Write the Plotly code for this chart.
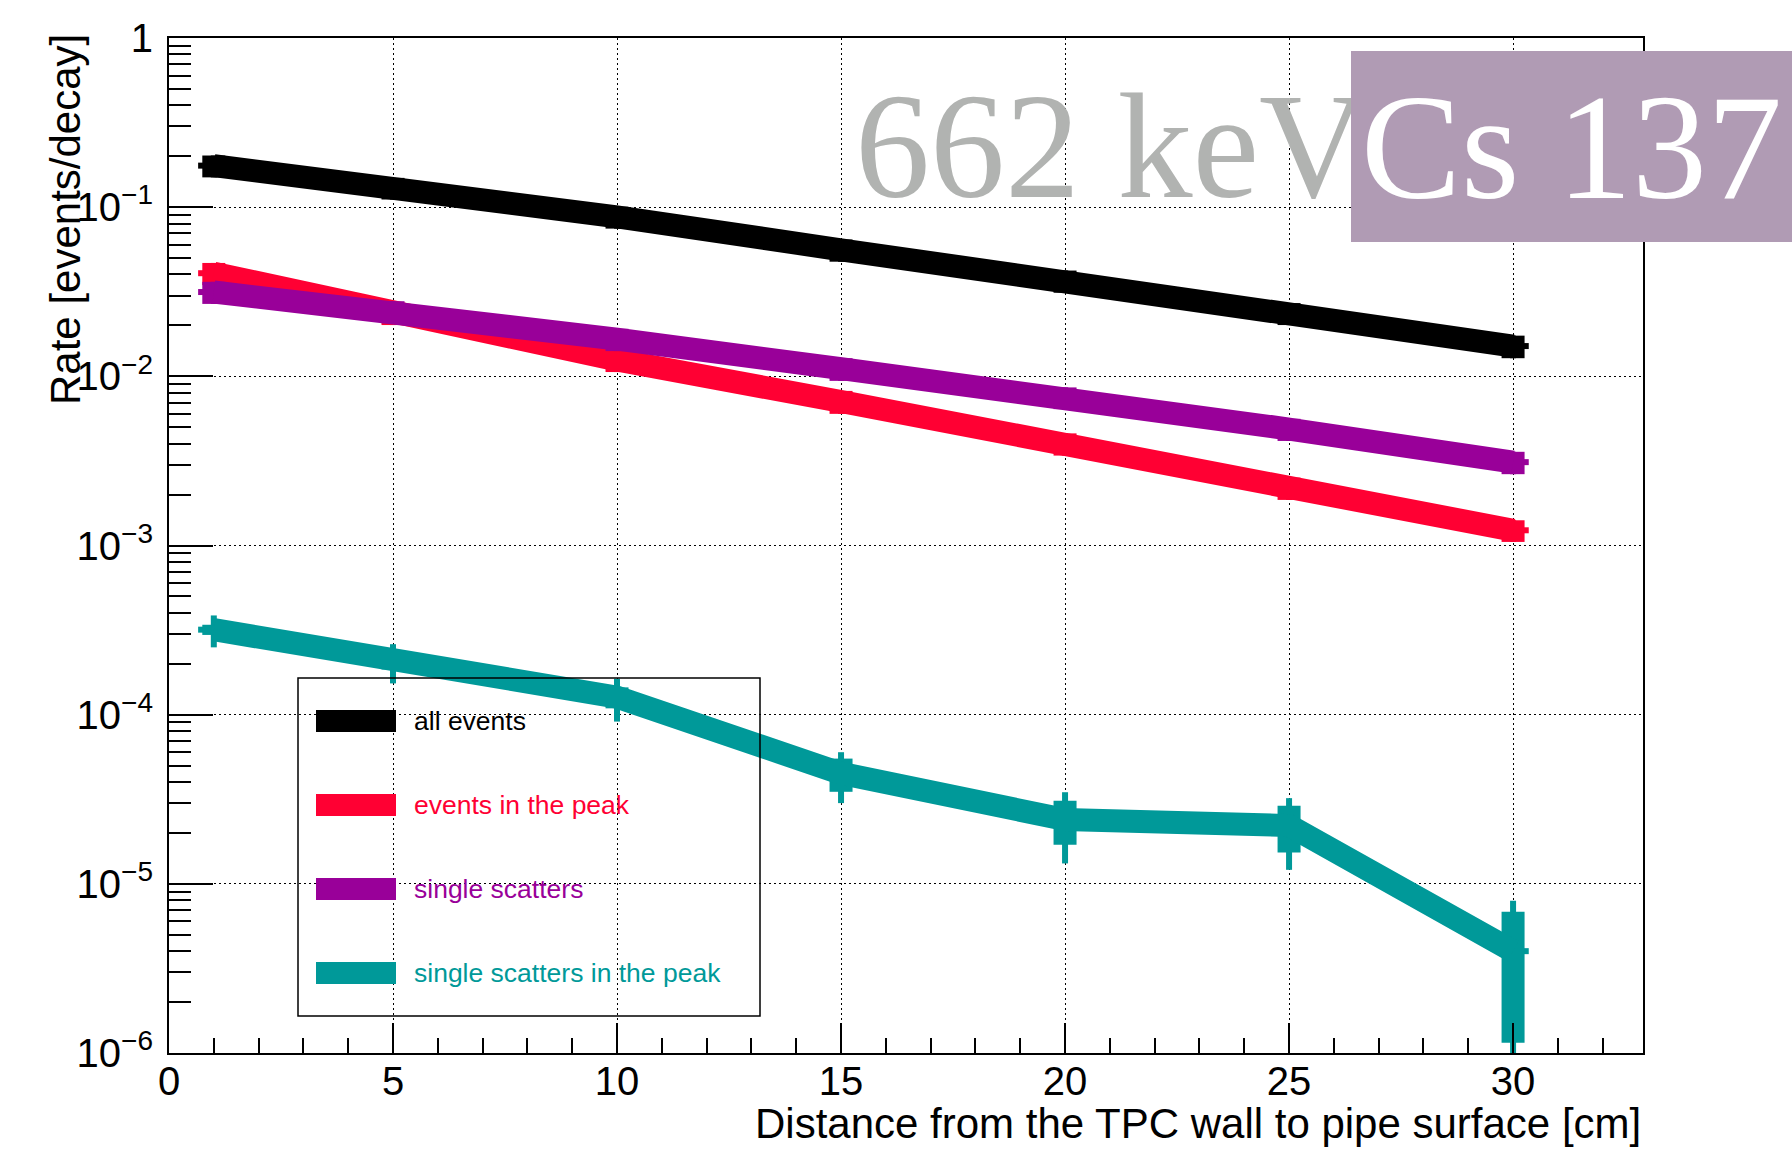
import plotly.graph_objects as go

# Distance from the TPC wall to the pipe surface [cm]
distance_cm = [1, 5, 10, 15, 20, 25, 30]

# Rates [events/decay] per selection, with the drawn error bars
all_events = [0.176, 0.130, 0.0877, 0.056, 0.0367, 0.0236, 0.0151]
all_events_err = [0.026, 0.019, 0.013, 0.0084, 0.0055, 0.0035, 0.0023]
all_events_err_outer = [0.026, 0.019, 0.013, 0.0084, 0.0055, 0.0035, 0.0023]

peak_events = [0.0407, 0.0236, 0.0125, 0.0071, 0.0040, 0.00219, 0.00123]
peak_events_err = [0.0061, 0.0035, 0.0019, 0.0011, 0.0006, 0.00033, 0.00018]
peak_events_err_outer = [0.0061, 0.0035, 0.0019, 0.0011, 0.0006, 0.00033, 0.00018]

single_scatters = [0.0315, 0.0242, 0.0166, 0.0111, 0.0075, 0.00488, 0.00311]
single_scatters_err = [0.0047, 0.0036, 0.0025, 0.0017, 0.0011, 0.00073, 0.00047]
single_scatters_err_outer = [0.0047, 0.0036, 0.0025, 0.0017, 0.0011, 0.00073, 0.00047]

single_peak = [3.18e-4, 2.07e-4, 1.27e-4, 4.5e-5, 2.4e-5, 2.21e-5, 4.0e-6]
single_peak_err = [0.22e-4, 0.22e-4, 0.18e-4, 1.0e-5, 0.70e-5, 0.68e-5, 2.85e-6]
single_peak_err_outer = [0.68e-4, 0.54e-4, 0.36e-4, 1.5e-5, 1.08e-5, 1.0e-5, 3.95e-6]

series_names = ["all events", "events in the peak", "single scatters",
                "single scatters in the peak"]
series_colors = ["#000000", "#ff0033", "#990099", "#009999"]

x_tick_vals = [0, 5, 10, 15, 20, 25, 30]
x_tick_text = ["0", "5", "10", "15", "20", "25", "30"]
y_tick_vals = [1e-6, 1e-5, 1e-4, 1e-3, 1e-2, 1e-1, 1]
y_tick_text = ["10<sup>−6</sup>", "10<sup>−5</sup>", "10<sup>−4</sup>",
               "10<sup>−3</sup>", "10<sup>−2</sup>", "10<sup>−1</sup>", "1"]

x_title = "Distance from the TPC wall to pipe surface [cm]"
y_title = "Rate [events/decay]"
energy_label = "662 keV"
source_label = "Cs 137"

SANS = "Liberation Sans, Arial, Helvetica, sans-serif"
SERIF = "Liberation Serif, Times New Roman, serif"

W, H = 1792, 1151
L, R, T, B = 169, 1643, 38, 1053


def px_x(px):
    return (px - L) / (R - L)


def px_y(py):
    return (B - py) / (B - T)


fig = go.Figure()

series = zip(series_names, series_colors,
             [all_events, peak_events, single_scatters, single_peak],
             [all_events_err, peak_events_err, single_scatters_err, single_peak_err],
             [all_events_err_outer, peak_events_err_outer,
              single_scatters_err_outer, single_peak_err_outer])

for name, color, vals, err, err_outer in series:
    # thin outer error bars
    fig.add_trace(go.Scatter(
        x=distance_cm, y=vals, mode="markers",
        marker=dict(size=1, color=color),
        error_y=dict(type="data", array=err_outer, thickness=6, width=0, color=color),
        error_x=dict(type="constant", value=0.35, thickness=6, width=0, color=color),
        showlegend=False, hoverinfo="skip",
    ))
    # thick graph line with thick error bars
    fig.add_trace(go.Scatter(
        x=distance_cm, y=vals, mode="lines", name=name,
        line=dict(color=color, width=23),
        error_y=dict(type="data", array=err, thickness=23, width=0, color=color),
        showlegend=False,
    ))

minor_y = [k * 10.0 ** e for e in range(-6, 0) for k in range(2, 10)]

fig.update_xaxes(
    range=[0, 32.9], tickmode="array", tickvals=x_tick_vals, ticktext=x_tick_text,
    ticks="inside", ticklen=30, tickwidth=1.5, tickcolor="black",
    minor=dict(dtick=1, ticks="inside", ticklen=15, tickwidth=1.5,
               tickcolor="black", showgrid=False),
    showgrid=True, gridcolor="black", gridwidth=1, griddash="2px,3px",
    showline=True, linecolor="black", linewidth=2, mirror=True,
    zeroline=False, automargin=False,
    tickfont=dict(family=SANS, size=40, color="black"), ticklabelstandoff=-8,
)
fig.update_yaxes(
    type="log", range=[-6, 0], tickmode="array", tickvals=y_tick_vals,
    ticktext=y_tick_text,
    ticks="inside", ticklen=44, tickwidth=1.5, tickcolor="black",
    minor=dict(tickmode="array", tickvals=minor_y, ticks="inside", ticklen=22,
               tickwidth=1.5, tickcolor="black", showgrid=False),
    showgrid=True, gridcolor="black", gridwidth=1, griddash="2px,3px",
    showline=True, linecolor="black", linewidth=2, mirror=True,
    zeroline=False, automargin=False,
    tickfont=dict(family=SANS, size=40, color="black"), ticklabelstandoff=6,
)

shapes = []
annotations = []

# legend frame
shapes.append(dict(type="rect", xref="paper", yref="paper",
                   x0=px_x(298), x1=px_x(760), y0=px_y(1016), y1=px_y(678),
                   line=dict(color="black", width=1.5), fillcolor="rgba(0,0,0,0)",
                   layer="above"))
legend_rows = [721, 805, 889, 973]
for name, color, row in zip(series_names, series_colors, legend_rows):
    shapes.append(dict(type="rect", xref="paper", yref="paper",
                       x0=px_x(316), x1=px_x(396),
                       y0=px_y(row + 11), y1=px_y(row - 11),
                       line=dict(width=0), fillcolor=color, layer="above"))
    annotations.append(dict(text=name, xref="paper", yref="paper",
                            x=px_x(412), y=px_y(row), xanchor="left",
                            yanchor="middle", showarrow=False,
                            font=dict(family=SANS, size=26.5, color=color)))

# axis titles
annotations.append(dict(text=x_title, xref="paper", yref="paper",
                        x=1.0, y=px_y(1123), xanchor="right", yanchor="middle",
                        showarrow=False,
                        font=dict(family=SANS, size=42, color="black")))
annotations.append(dict(text=y_title, xref="paper", yref="paper",
                        x=px_x(65), y=px_y(220), xanchor="center",
                        yanchor="middle", textangle=-90, showarrow=False,
                        font=dict(family=SANS, size=42, color="black")))

# energy label, then source label box drawn over it
annotations.append(dict(text=energy_label, xref="paper", yref="paper",
                        x=px_x(853), y=px_y(146), xanchor="left",
                        yanchor="middle", showarrow=False,
                        font=dict(family=SERIF, size=150, color="#b1b3b1")))
annotations.append(dict(text=source_label, xref="paper", yref="paper",
                        x=px_x(1351), y=px_y(51), xanchor="left", yanchor="top",
                        width=441, height=191, borderpad=0, borderwidth=0,
                        bgcolor="#b09bb4", align="center", valign="middle",
                        showarrow=False,
                        font=dict(family=SERIF, size=150, color="white")))

fig.update_layout(
    width=W, height=H,
    margin=dict(l=L, r=W - R, t=T, b=H - B),
    paper_bgcolor="white", plot_bgcolor="white",
    showlegend=False, shapes=shapes, annotations=annotations,
)

fig.write_html("out.html")
